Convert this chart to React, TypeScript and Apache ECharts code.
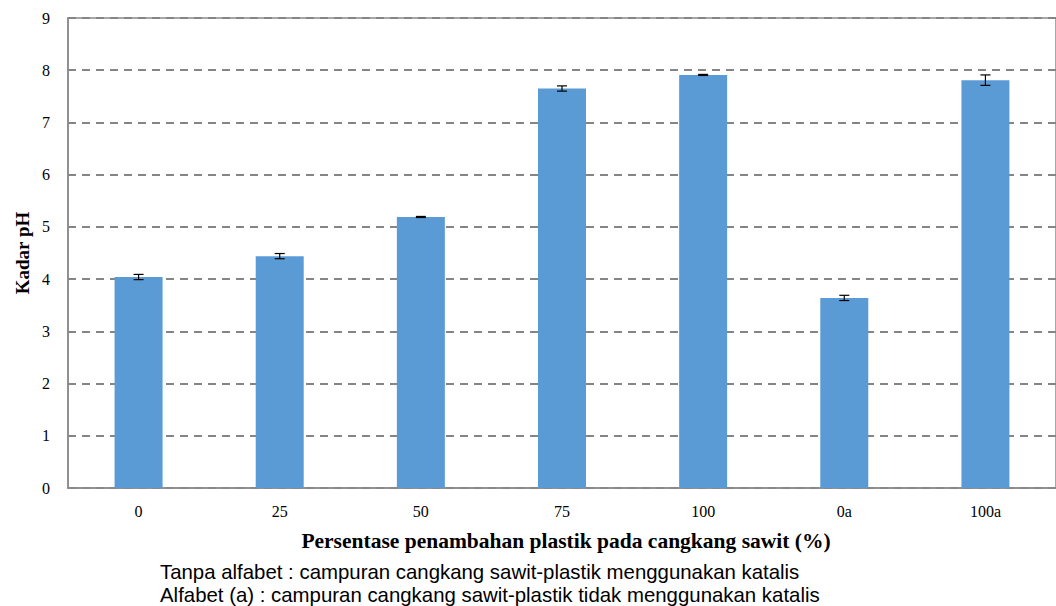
import React, { useEffect, useRef } from "react";
import * as echarts from "echarts";

// Plastic share added to palm kernel shell (%), "a" = without catalyst
const categories = ["0", "25", "50", "75", "100", "0a", "100a"];
// Mean pH per blend
const phValues = [4.04, 4.44, 5.19, 7.65, 7.91, 3.64, 7.81];
// Standard deviation per blend
const phErrors = [0.05, 0.05, 0.01, 0.05, 0.01, 0.05, 0.1];
const yTicks = [0, 1, 2, 3, 4, 5, 6, 7, 8, 9];

const noteLines = [
  "Tanpa alfabet : campuran cangkang sawit-plastik menggunakan katalis",
  "Alfabet (a) : campuran cangkang sawit-plastik tidak menggunakan katalis",
];

const serif = "'Liberation Serif', 'Times New Roman', serif";
const sans = "'Liberation Sans', Arial, sans-serif";

export default function App() {
  const ref = useRef<HTMLDivElement>(null);

  useEffect(() => {
    if (!ref.current) return;
    const chart = echarts.init(ref.current, null, { renderer: "svg" });

    const errorData = categories.map((c, i) => [
      i,
      phValues[i] - phErrors[i],
      phValues[i] + phErrors[i],
    ]);

    chart.setOption({
      animation: false,
      backgroundColor: "#ffffff",
      grid: {
        left: 68,
        top: 18,
        width: 994,
        height: 470,
        show: true,
        borderColor: "#8a8a8a",
        borderWidth: 1.5,
        containLabel: false,
      },
      xAxis: {
        type: "category",
        data: categories,
        axisLine: { show: true, lineStyle: { color: "#8a8a8a", width: 1.5 } },
        axisTick: { show: false },
        axisLabel: {
          fontFamily: serif,
          fontSize: 16,
          color: "#000",
          margin: 15,
        },
      },
      yAxis: {
        type: "value",
        min: 0,
        max: yTicks[yTicks.length - 1],
        interval: 1,
        axisLine: { show: true, lineStyle: { color: "#8a8a8a", width: 1.5 } },
        axisTick: { show: false },
        axisLabel: {
          fontFamily: serif,
          fontSize: 16,
          color: "#000",
          margin: 18,
        },
        splitLine: {
          show: true,
          lineStyle: { color: "#858585", type: [8, 6], width: 2 },
        },
      },
      graphic: [
        {
          type: "text",
          x: 22,
          y: 253,
          rotation: Math.PI / 2,
          style: {
            text: "Kadar pH",
            fontFamily: serif,
            fontWeight: "bold",
            fontSize: 19,
            fill: "#000",
            align: "center",
            verticalAlign: "middle",
          },
        },
        {
          type: "text",
          x: 566,
          y: 541,
          style: {
            text: "Persentase penambahan plastik pada cangkang sawit (%)",
            fontFamily: serif,
            fontWeight: "bold",
            fontSize: 21.5,
            fill: "#000",
            align: "center",
            verticalAlign: "middle",
          },
        },
        ...noteLines.map((t, i) => ({
          type: "text",
          x: 160,
          y: 572 + i * 23,
          style: {
            text: t,
            fontFamily: sans,
            fontSize: 20.4,
            fill: "#000",
            align: "left",
            verticalAlign: "middle",
          },
        })),
      ],
      series: [
        {
          type: "bar",
          data: phValues,
          barWidth: 48,
          itemStyle: { color: "#5b9bd5" },
          z: 2,
        },
        {
          type: "custom",
          data: errorData,
          z: 3,
          renderItem: (params: any, api: any) => {
            const x = api.coord([api.value(0), 0])[0];
            const lo = api.coord([api.value(0), api.value(1)])[1];
            const hi = api.coord([api.value(0), api.value(2)])[1];
            const half = 5;
            const style = { stroke: "#000", lineWidth: 1.2 };
            return {
              type: "group",
              children: [
                { type: "line", shape: { x1: x, y1: lo, x2: x, y2: hi }, style },
                { type: "line", shape: { x1: x - half, y1: lo, x2: x + half, y2: lo }, style },
                { type: "line", shape: { x1: x - half, y1: hi, x2: x + half, y2: hi }, style },
              ],
            };
          },
        },
      ],
    });

    return () => chart.dispose();
  }, []);

  return (
    <div
      ref={ref}
      style={{ position: "fixed", left: 0, top: 0, width: 1056, height: 606 }}
    />
  );
}
